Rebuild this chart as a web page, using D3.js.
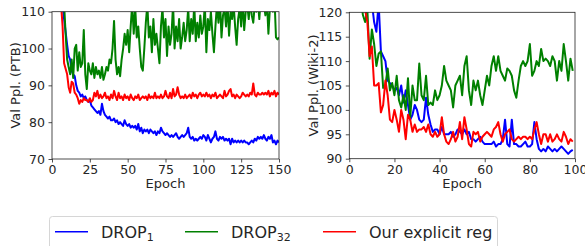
<!DOCTYPE html>
<html>
<head>
<meta charset="utf-8">
<script src="https://cdn.jsdelivr.net/npm/d3@7"></script>
<style>
  body { margin: 0; background: #fff; }
  svg { display: block; font-family: "DejaVu Sans", sans-serif; }
</style>
</head>
<body>
<div id="chart"></div>
<script>
// PTB, epochs 1..150
const ptbDrop1 = [
  300, 200, 160, 140, 125, 118, 112, 108, 104.5, 101, 98, 97, 94, 93, 92.5, 90, 88.5, 88, 87, 87.5,
  86.5, 87, 86, 85.5, 86, 84.5, 84, 83.5, 83, 82.5, 83, 82, 85, 83, 82, 81.5, 81, 81.5, 80.5, 80.5,
  81, 80, 80.5, 79.5, 80, 79.5, 79, 80.5, 79.5, 79, 79.5, 78.5, 79, 78.5, 79, 78, 79.5, 77.5, 78.5, 77,
  78, 77.5, 78, 77, 78, 77.5, 77, 77.5, 76.5, 77.5, 77, 78.5, 77.5, 77, 76.5, 77, 76.5, 76, 76.5, 76,
  76.5, 77, 76, 75.5, 76, 76.5, 76, 76.5, 77, 78.5, 76, 75.5, 76, 75, 75.5, 75, 75.5, 76, 75.5, 76.5,
  76, 75, 76.5, 75.5, 74.5, 75.5, 76, 77.5, 75.5, 75, 76, 75.5, 76, 75, 75.5, 75, 75.5, 74, 75.5, 74.5,
  75, 74.5, 75, 74.5, 75, 74.5, 75, 74.5, 74.5, 74, 74.5, 75, 74.5, 75.5, 75, 76, 75.5, 76, 75.5, 76.5,
  75.5, 75, 76, 75.5, 76.5, 74.5, 75, 74, 75, 74.5
];
const ptbDrop32 = [
  300, 220, 170, 140, 125, 115, 111, 112, 104, 97, 95, 93, 97, 92, 100, 101, 94, 99, 95, 96,
  105, 93, 89, 96, 94, 93, 96, 92, 95, 93, 94, 92, 95, 91.5, 93, 95, 94, 97, 96, 100,
  107.5, 97, 93, 95, 92.5, 97, 100, 104, 101, 105, 99, 106, 112, 104, 111, 103, 106, 100, 95, 94,
  100, 107, 112, 103, 106, 99, 108, 101, 104, 100, 96, 106, 111, 103, 108, 98, 106, 101, 104, 112,
  100, 106, 102, 108, 100, 103, 107, 102, 105, 111, 102, 108, 104, 112, 102, 107, 103, 109, 104, 106,
  112, 99, 108, 105, 110, 104, 99, 106, 112, 107, 113, 103, 109, 111, 106, 112, 103.5, 110, 108, 112,
  106, 101, 108, 111, 106, 113, 105, 110, 112, 108, 113, 109, 107, 112, 110, 113, 108, 114, 111, 112,
  109, 113, 104, 111, 113, 110, 114, 103, 102.5, 103
];
const ptbOurs = [
  300, 200, 160, 135, 118, 112, 106, 96, 94.5, 93, 89.5, 88, 91, 90.5, 88, 87.5, 86.5, 85, 86, 85.5,
  86.5, 86, 86, 85.5, 86.5, 85.5, 86, 88, 87, 88.5, 86.5, 87.5, 86.5, 87, 88, 86.5, 87, 86, 87.5, 86.5,
  88.5, 87, 86, 88, 86.5, 87, 86, 87.5, 86.5, 87, 86, 87.5, 86.5, 86, 87, 86.5, 87.5, 86, 86.5, 87,
  86.5, 87, 86, 87.5, 86.5, 87, 86.5, 88, 86.5, 87, 86.5, 87.5, 86.5, 87, 88.5, 87, 86.5, 88, 86.5, 89,
  87, 87.5, 89.5, 87.5, 86.5, 87, 86.5, 87.5, 86.5, 87, 87.5, 86.5, 88, 87, 87.5, 86.5, 87.5, 88, 87, 87.5,
  87, 88, 87, 87.5, 86.5, 87.5, 87, 88, 86.5, 87, 87.5, 87, 86.5, 88.5, 87, 87.5, 88.5, 89, 87, 87.5,
  86.5, 87.5, 87, 86.5, 87, 88, 87.5, 87, 87.5, 87, 88, 87.5, 90.5, 87.5, 87, 88, 87.5, 87.5, 88, 87.5,
  88, 87.5, 88.5, 87, 88, 87.5, 88.5, 87, 88, 87.5
];

// Wiki-2, epochs 1..99
const wikiDrop1 = [
  250, 200, 170, 150, 140, 132, 127, 122, 121, 122, 118, 116, 122, 112, 111, 110, 106, 105.5, 105, 104,
  104.5, 103, 105, 101.5, 104, 101, 98, 99, 101, 100, 98, 97.5, 98, 102.5, 99, 97, 95.5, 96, 96, 95,
  96.5, 95, 95, 95, 95.5, 94.5, 95, 96, 95.5, 95, 96, 95, 95.5, 94, 94, 93.5, 94, 94.5, 93.5, 93,
  93, 93, 93, 93.5, 92.5, 93, 93, 94, 98, 93, 92.5, 98, 93, 93, 92.5, 92.5, 93, 93.5, 92.5, 92.5,
  93, 97.5, 94, 92, 91.5, 92, 91.5, 92.5, 92, 91.5, 92, 91.5, 92, 92.5, 92, 91.5, 91, 91.5, 91.8
];
const wikiDrop32 = [
  200, 160, 140, 130, 124, 119.5, 118, 120.5, 110.5, 116.5, 113.5, 109, 111.5, 112, 104.5, 105, 108.5, 104, 105.5, 103,
  107, 102, 100.5, 103, 100, 106.5, 98.5, 105, 102, 102, 109.5, 103, 102, 107, 101, 101.5, 101, 104, 102, 103,
  105, 109, 106, 105, 104, 100.5, 105, 106, 107, 103, 109, 111, 104, 101, 106, 104, 106, 103, 101, 104,
  107, 105, 109, 111, 108, 111, 108, 107, 106, 108.5, 108, 107, 104, 102.5, 106, 109, 110, 109, 110, 113.5,
  107, 108, 110, 109, 112.5, 110, 110.5, 110, 109, 111, 110, 106, 110, 108, 113.5, 110, 106, 110.5, 108
];
const wikiOurs = [
  250, 190, 160, 140, 130, 124, 120.5, 118, 111, 113, 105, 105, 105.5, 99.5, 101, 106, 103, 98, 97.5, 100,
  98, 95.5, 100, 98, 94, 99, 98, 95.5, 97, 95.5, 96, 96, 96.5, 95.5, 97, 95, 94.5, 95.5, 94.5, 95,
  98.5, 95, 93.5, 93, 94, 95.5, 93.5, 94.5, 97.5, 94, 98.5, 96, 93, 92.5, 95.5, 95, 95.5, 93.5, 94.5, 95,
  95.5, 95, 94.5, 96, 96.5, 97.5, 95, 93.5, 95, 95.5, 96, 94, 93.5, 94, 94.5, 94, 94.5, 94.5, 94, 94.5,
  94, 96, 97.5, 95, 93, 95, 95, 93.5, 95, 93.5, 94, 95, 94, 93.5, 95.5, 94.5, 93, 94, 93.5
];

const seriesNames = ['DROP1', 'DROP32', 'Our explicit reg'];
const seriesColors = ['#0000ff', '#008000', '#ff0000'];

const ptbYTicks = [70, 80, 90, 100, 110];
const ptbXTicks = [0, 25, 50, 75, 100, 125, 150];
const wikiYTicks = [90, 95, 100, 105, 110, 115, 120];
const wikiXTicks = [0, 20, 40, 60, 80, 100];

const W = 585, H = 246;
const svg = d3.select('#chart').append('svg')
  .attr('width', W)
  .attr('height', H);

const panels = [
  {
    id: 'ptb', series: [ptbDrop1, ptbDrop32, ptbOurs],
    x: [0, 150], y: [70, 110], xTicks: ptbXTicks, yTicks: ptbYTicks,
    box: {left: 52, right: 279, top: 11.7, bottom: 159},
    ylabel: 'Val Ppl. (PTB)', ylabelX: 20,
  },
  {
    id: 'wiki', series: [wikiDrop1, wikiDrop32, wikiOurs],
    x: [0, 100], y: [90, 120], xTicks: wikiXTicks, yTicks: wikiYTicks,
    box: {left: 349.3, right: 575, top: 12.3, bottom: 158.7},
    ylabel: 'Val Ppl. (Wiki-2)', ylabelX: 318,
  },
];

const drawPanel = (p) => {
  const b = p.box;
  const x = d3.scaleLinear().domain(p.x).range([b.left, b.right]);
  const y = d3.scaleLinear().domain(p.y).range([b.bottom, b.top]);

  svg.append('clipPath').attr('id', `clip-${p.id}`)
    .append('rect')
    .attr('x', b.left).attr('y', b.top)
    .attr('width', b.right - b.left).attr('height', b.bottom - b.top);

  const line = d3.line()
    .x((d, i) => x(i + 1))
    .y(d => y(d));

  const g = svg.append('g').attr('clip-path', `url(#clip-${p.id})`);
  p.series.forEach((s, k) => {
    g.append('path')
      .datum(s)
      .attr('d', line)
      .attr('fill', 'none')
      .attr('stroke', seriesColors[k])
      .attr('stroke-width', 2)
      .attr('stroke-linejoin', 'round');
  });

  // frame
  svg.append('rect')
    .attr('x', b.left).attr('y', b.top)
    .attr('width', b.right - b.left).attr('height', b.bottom - b.top)
    .attr('fill', 'none')
    .attr('stroke', '#222')
    .attr('stroke-width', 0.8);

  const xAxis = svg.append('g')
    .attr('transform', `translate(0,${b.bottom})`)
    .call(d3.axisBottom(x).tickValues(p.xTicks).tickSize(3.5).tickPadding(3));
  const yAxis = svg.append('g')
    .attr('transform', `translate(${b.left},0)`)
    .call(d3.axisLeft(y).tickValues(p.yTicks).tickSize(3.5).tickPadding(3.5));

  [xAxis, yAxis].forEach((a) => {
    a.select('.domain').remove();
    a.selectAll('line').attr('stroke', '#222').attr('stroke-width', 0.8);
    a.selectAll('text')
      .attr('font-family', '"DejaVu Sans", sans-serif')
      .attr('font-size', 12.5)
      .attr('fill', '#262626');
  });

  svg.append('text')
    .attr('x', (b.left + b.right) / 2)
    .attr('y', 188)
    .attr('text-anchor', 'middle')
    .attr('font-size', 13)
    .attr('fill', '#262626')
    .text('Epoch');

  svg.append('text')
    .attr('transform', `translate(${p.ylabelX},${(b.top + b.bottom) / 2}) rotate(-90)`)
    .attr('text-anchor', 'middle')
    .attr('font-size', 13)
    .attr('fill', '#262626')
    .text(p.ylabel);
};

panels.forEach(drawPanel);

// legend
const legend = svg.append('g');
legend.append('rect')
  .attr('x', 49.5).attr('y', 216.5)
  .attr('width', 448).attr('height', 45)
  .attr('rx', 3)
  .attr('fill', '#fff')
  .attr('stroke', '#d6d6d6')
  .attr('stroke-width', 1);

const legendX = [55, 185, 323];
const labelParts = [['DROP', '1'], ['DROP', '32'], ['Our explicit reg', '']];
seriesNames.forEach((name, k) => {
  const lx = legendX[k];
  legend.append('line')
    .attr('x1', lx).attr('x2', lx + 33)
    .attr('y1', 231.7).attr('y2', 231.7)
    .attr('stroke', seriesColors[k])
    .attr('stroke-width', 1.5);
  const t = legend.append('text')
    .attr('x', lx + 46)
    .attr('y', 237.5)
    .attr('font-size', 16)
    .attr('fill', '#262626');
  t.append('tspan').text(labelParts[k][0]);
  if (labelParts[k][1]) {
    t.append('tspan')
      .attr('font-size', 11)
      .attr('dy', 3)
      .text(labelParts[k][1]);
  }
});
</script>
</body>
</html>
